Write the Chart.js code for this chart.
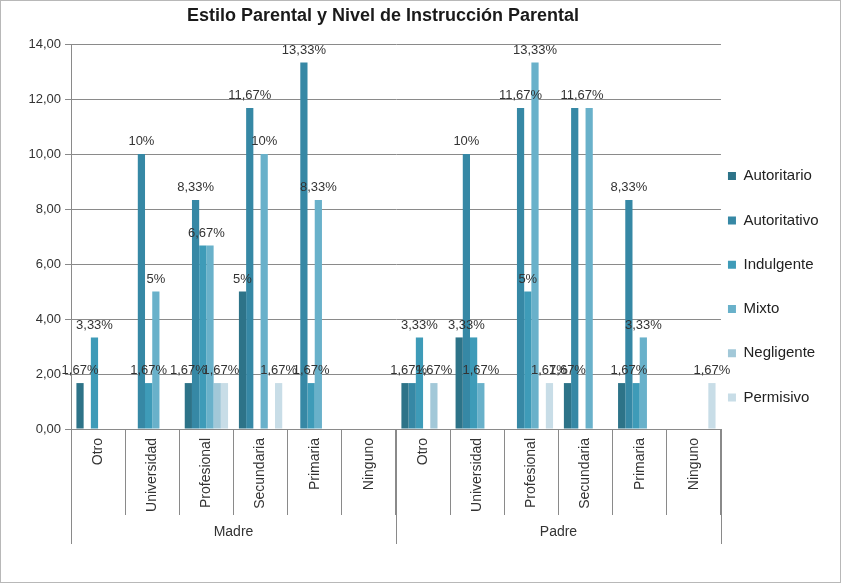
<!DOCTYPE html>
<html>
<head>
<meta charset="utf-8">
<script src="https://cdn.jsdelivr.net/npm/chart.js@4.4.1/dist/chart.umd.min.js"></script>
<style>
    html, body { margin: 0; padding: 0; background: #fff; }
    #wrap { width: 841px; height: 583px; box-sizing: border-box; border: 1px solid #b8b8b8; }
    canvas { display: block; }
</style>
</head>
<body>
<div id="wrap"><canvas id="chart" width="839" height="581"></canvas></div>
<script>
const titulo = 'Estilo Parental y Nivel de Instrucción Parental';
const grupos = ['Madre', 'Padre'];
const niveles = ['Otro', 'Universidad', 'Profesional', 'Secundaria', 'Primaria', 'Ninguno'];
const yTicks = [0, 2, 4, 6, 8, 10, 12, 14];

// porcentajes: primero los 6 niveles de la madre, luego los 6 del padre
const autoritario  = [1.67, 0, 1.67, 5, 0, 0,          1.67, 3.33, 0, 1.67, 1.67, 0];
const autoritativo = [0, 10, 8.33, 11.67, 13.33, 0,     1.67, 10, 11.67, 11.67, 8.33, 0];
const indulgente   = [3.33, 1.67, 6.67, 0, 1.67, 0,     3.33, 3.33, 5, 0, 1.67, 0];
const mixto        = [0, 5, 6.67, 10, 8.33, 0,          0, 1.67, 13.33, 11.67, 3.33, 0];
const negligente   = [0, 0, 1.67, 0, 0, 0,              1.67, 0, 0, 0, 0, 0];
const permisivo    = [0, 0, 1.67, 1.67, 0, 0,           0, 0, 1.67, 0, 0, 1.67];

const series = [
    { label: 'Autoritario', data: autoritario, color: '#2d7388' },
    { label: 'Autoritativo', data: autoritativo, color: '#3688a5' },
    { label: 'Indulgente', data: indulgente, color: '#3e9bb8' },
    { label: 'Mixto', data: mixto, color: '#69b1ca' },
    { label: 'Negligente', data: negligente, color: '#a2c8d8' },
    { label: 'Permisivo', data: permisivo, color: '#c8dde7' },
];

const labels = grupos.flatMap(() => niveles);
const FONT = "'Liberation Sans', Arial, sans-serif";
const GRID = '#8a8a8a';

function pct(v) {
    return (Number.isInteger(v) ? String(v) : v.toFixed(2).replace('.', ',')) + '%';
}

// title, value labels, and the Madre / Padre level under the axis
const extras = {
    id: 'extras',
    afterDatasetsDraw(chart) {
        const ctx = chart.ctx;
        ctx.save();
        ctx.font = '13px ' + FONT;
        ctx.fillStyle = '#333';
        ctx.textAlign = 'center';
        ctx.textBaseline = 'bottom';
        labels.forEach((_, j) => {
            // equal labels that would sit on top of each other are written once
            const marks = [];
            chart.data.datasets.forEach((ds, i) => {
                const v = ds.data[j];
                if (!v) return;
                const bar = chart.getDatasetMeta(i).data[j];
                const text = pct(v);
                const w = ctx.measureText(text).width;
                const twin = marks.find(m => m.text === text && Math.abs(m.xs[m.xs.length - 1] - bar.x) < w / 2);
                if (twin) twin.xs.push(bar.x);
                else marks.push({ text, xs: [bar.x], y: bar.y });
            });
            marks.forEach(m => {
                const x = m.xs.reduce((a, b) => a + b, 0) / m.xs.length;
                ctx.fillText(m.text, x, m.y - 6);
            });
        });
        ctx.restore();
    },
    afterDraw(chart) {
        const ctx = chart.ctx;
        const x = chart.scales.x;
        const area = chart.chartArea;
        const half = (x.getPixelForValue(1) - x.getPixelForValue(0)) / 2;
        const n = niveles.length;

        ctx.save();
        ctx.strokeStyle = GRID;
        ctx.lineWidth = 1;
        const edges = [];
        for (let g = 0; g <= grupos.length; g++) {
            const idx = Math.min(g * n, labels.length - 1);
            edges.push(g * n < labels.length ? x.getPixelForValue(idx) - half : x.getPixelForValue(idx) + half);
        }
        edges.forEach(px => {
            const xx = Math.round(px) + 0.5;
            ctx.beginPath();
            ctx.moveTo(xx, area.bottom);
            ctx.lineTo(xx, area.bottom + 115);
            ctx.stroke();
        });

        ctx.fillStyle = '#333';
        ctx.font = '14px ' + FONT;
        ctx.textAlign = 'center';
        ctx.textBaseline = 'middle';
        grupos.forEach((g, i) => {
            ctx.fillText(g, (edges[i] + edges[i + 1]) / 2, area.bottom + 103);
        });

        ctx.fillStyle = '#1a1a1a';
        ctx.font = 'bold 18px ' + FONT;
        ctx.fillText(titulo, 382, 15);
        ctx.restore();
    }
};

const chart = new Chart(document.getElementById('chart'), {
    type: 'bar',
    data: {
        labels: labels,
        datasets: series.map(s => ({
            label: s.label,
            data: s.data,
            backgroundColor: s.color,
            borderWidth: 0,
            categoryPercentage: 0.8,
            barPercentage: 1,
        }))
    },
    options: {
        responsive: false,
        animation: false,
        layout: { padding: { top: 43, right: 11.5, bottom: 30, left: 0 } },
        plugins: {
            title: { display: false },
            tooltip: { enabled: false },
            legend: {
                position: 'right',
                labels: {
                    boxWidth: 8,
                    boxHeight: 8,
                    padding: 7,
                    color: '#222',
                    font: { family: FONT, size: 15, lineHeight: '37.3px' },
                    generateLabels: c => Chart.defaults.plugins.legend.labels.generateLabels(c)
                        .map(item => ({ ...item, text: [item.text] }))
                }
            }
        },
        scales: {
            x: {
                grid: { drawOnChartArea: false, tickLength: 86, color: GRID },
                border: { color: GRID },
                ticks: {
                    minRotation: 90,
                    maxRotation: 90,
                    padding: -77,
                    color: '#333',
                    font: { family: FONT, size: 14 }
                },
                afterFit: axis => { axis.height = 123; }
            },
            y: {
                min: 0,
                max: 14,
                afterBuildTicks: axis => { axis.ticks = yTicks.map(v => ({ value: v })); },
                grid: { color: GRID, tickLength: 6 },
                border: { color: GRID },
                ticks: {
                    padding: 4,
                    color: '#333',
                    font: { family: FONT, size: 13 },
                    callback: v => v.toFixed(2).replace('.', ',')
                },
                afterFit: axis => { axis.width = 70; }
            }
        }
    },
    plugins: [extras]
});
</script>
</body>
</html>
